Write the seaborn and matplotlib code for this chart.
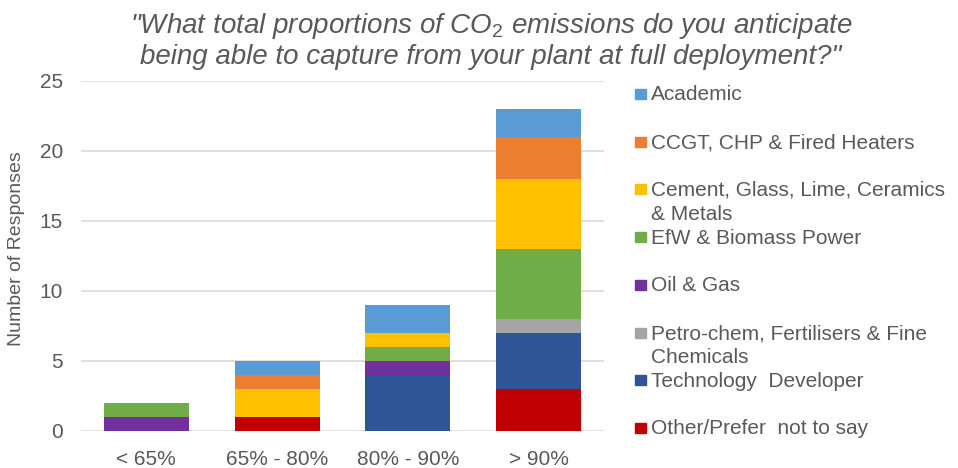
import matplotlib
matplotlib.use("Agg")
import matplotlib.pyplot as plt
from matplotlib.patches import Rectangle
import seaborn as sns
import pandas as pd

categories = ["< 65%", "65% - 80%", "80% - 90%", "> 90%"]
series = ["Academic", "CCGT, CHP & Fired Heaters",
          "Cement, Glass, Lime, Ceramics\n& Metals", "EfW & Biomass Power",
          "Oil & Gas", "Petro-chem, Fertilisers & Fine\nChemicals",
          "Technology  Developer", "Other/Prefer  not to say"]
academic = [0, 1, 2, 2]
ccgt = [0, 1, 0, 3]
cement = [0, 2, 1, 5]
efw = [1, 0, 1, 5]
oil_gas = [1, 0, 1, 0]
petrochem = [0, 0, 0, 1]
tech_dev = [0, 0, 4, 4]
other = [0, 1, 0, 3]
colors = ["#5B9BD5", "#ED7D31", "#FFC000", "#70AD47",
          "#7030A0", "#A5A5A5", "#2F5597", "#C00000"]
title_lines = ["\"What total proportions of CO$_\\mathit{2}$ emissions do you anticipate",
               "being able to capture from your plant at full deployment?\""]

values = [academic, ccgt, cement, efw, oil_gas, petrochem, tech_dev, other]
rows = []
for s, vals in zip(series, values):
    for c, v in zip(categories, vals):
        rows.append({"cat": c, "series": s, "n": v})
df = pd.DataFrame(rows)
df["cat"] = pd.Categorical(df["cat"], categories=categories, ordered=True)

sns.set_style("white")
plt.rcParams["font.family"] = ["Liberation Sans", "DejaVu Sans"]
plt.rcParams["mathtext.fontset"] = "custom"
plt.rcParams["mathtext.rm"] = "Liberation Sans"
plt.rcParams["mathtext.it"] = "Liberation Sans:italic"
txt = "#595959"

W, H = 958, 468
fig = plt.figure(figsize=(W / 100, H / 100), dpi=100)
ax = fig.add_axes([81 / W, 1 - 431 / H, 523 / W, 350 / H])

sns.histplot(data=df, x="cat", hue="series", weights="n", multiple="stack",
             discrete=True, shrink=0.65, hue_order=series,
             palette=colors, linewidth=0, alpha=1, legend=False, ax=ax)

ax.set_ylim(0, 25)
ax.set_xlim(-0.5, len(categories) - 0.5)
ax.set_yticks(range(0, 26, 5))
ax.yaxis.grid(True, color="#D9D9D9", linewidth=1.2)
ax.set_axisbelow(True)
for sp in ax.spines.values():
    sp.set_visible(False)
ax.tick_params(axis="both", length=0, labelsize=15, colors=txt)
ax.tick_params(axis="x", pad=13.5)
ax.tick_params(axis="y", pad=13)
ax.set_xlabel("")
ax.set_ylabel("Number of Responses", fontsize=14, color=txt)
ax.yaxis.set_label_coords(-0.107, 0.52)
ax.set_xticks(range(len(categories)))
ax.set_xticklabels(categories)

for i, line in enumerate(title_lines):
    fig.text(491 / W, 1 - (33 + 31 * i) / H, line, ha="center", va="baseline",
             fontsize=20, style="italic", color=txt)

# legend
y0 = 94
step = 47.7
for i, (s, c) in enumerate(zip(series, colors)):
    yc = y0 + i * step
    fig.patches.append(Rectangle((635 / W, 1 - (yc + 5) / H), 11 / W, 10 / H,
                                 transform=fig.transFigure, color=c))
    for k, part in enumerate(s.split("\n")):
        fig.text(651 / W, 1 - (yc + 1 + 24 * k) / H, part, ha="left",
                 va="center", fontsize=15, color=txt)

fig.savefig("out.png", dpi=100)
